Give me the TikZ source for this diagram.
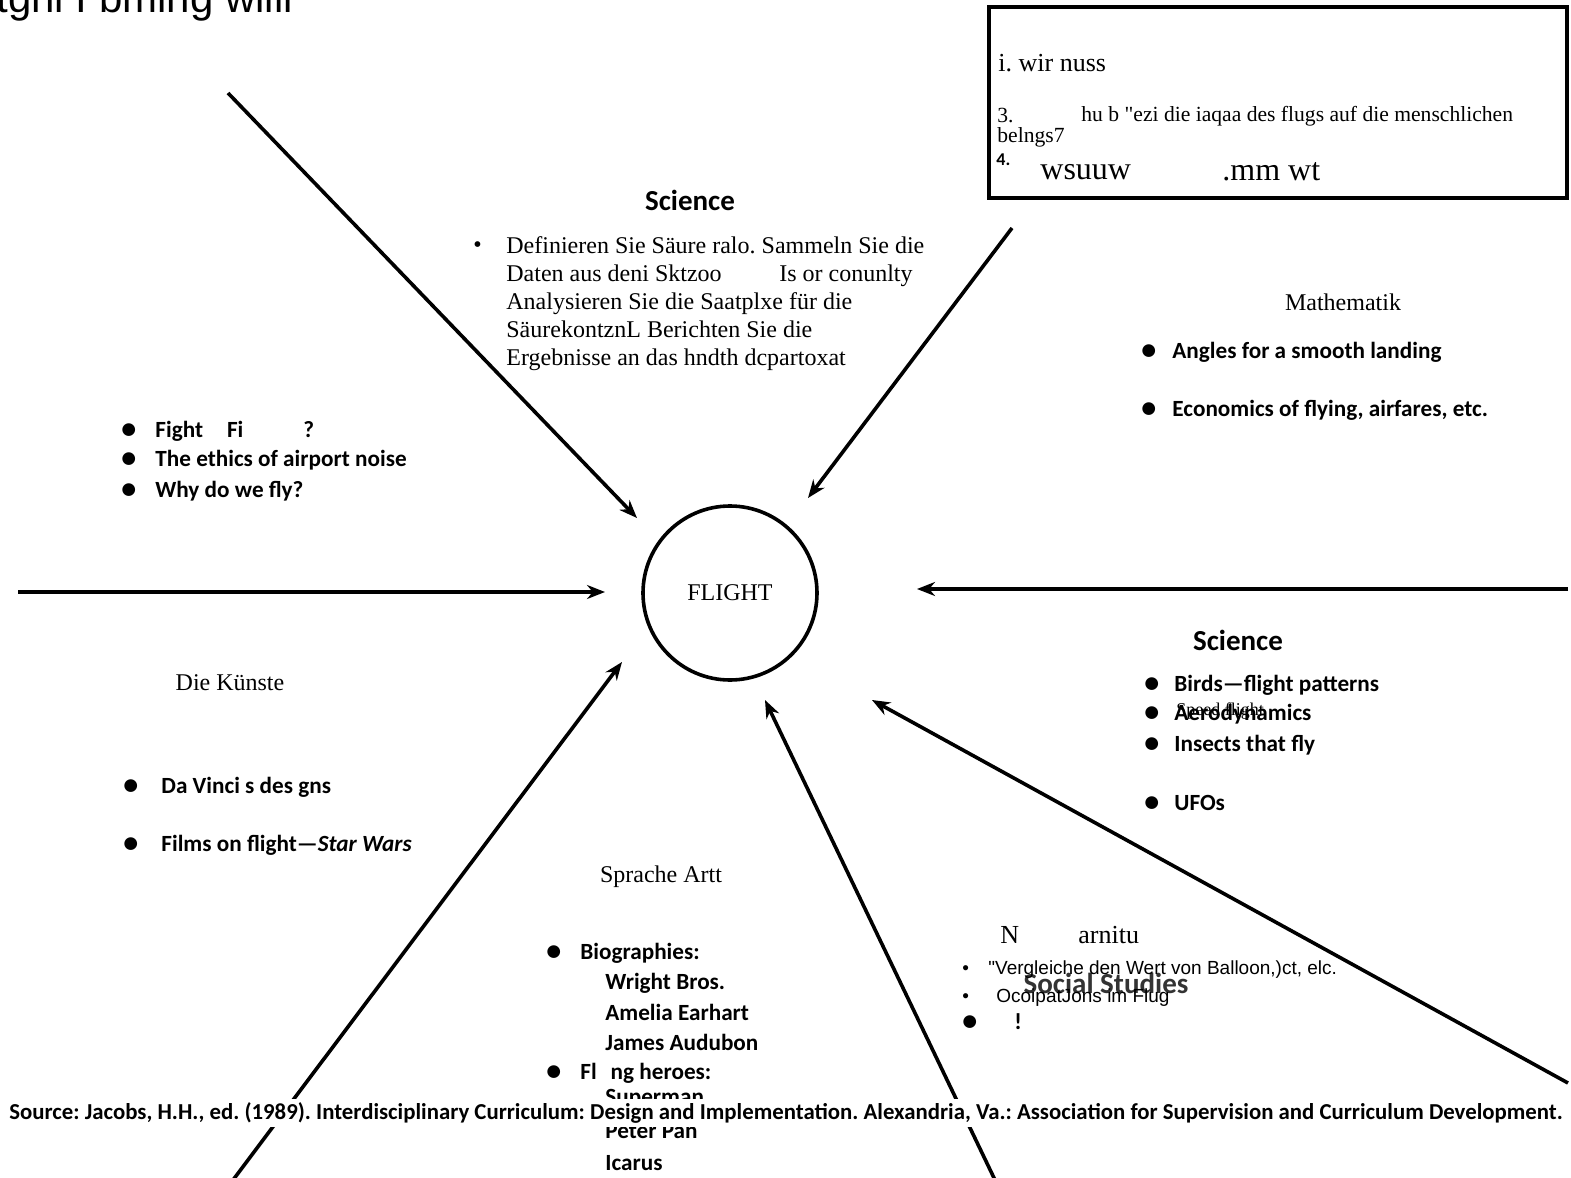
\documentclass[tikz,border=0pt]{standalone}
\usepackage{fontspec}
\setmainfont{Liberation Serif}[Ligatures=TeXOff]
\setsansfont{Liberation Sans}[Ligatures=TeXOff]
\newfontfamily\scanfont{Carlito}
\usetikzlibrary{arrows.meta,positioning}
\newcommand{\blt}[1][13pt]{\makebox[#1][l]{\raisebox{-0.6pt}{\fontsize{15}{15}\selectfont\textbullet}}}
\frenchspacing

\begin{document}
\begin{tikzpicture}[x=0.5pt, y=-0.5pt,
    spoke/.style={-{Stealth[length=9pt,width=7pt]}, line width=1.8pt},
    head/.style={font=\scanfont\bfseries\fontsize{14.5}{16}\selectfont, inner sep=0pt},
    topic/.style={font=\fontsize{12}{14}\selectfont, inner sep=0pt},
    item/.style={anchor=west, inner sep=0pt, font=\scanfont\bfseries\fontsize{11.6}{13}\selectfont},
    note/.style={anchor=west, inner sep=0pt, font=\sffamily\fontsize{9.5}{11}\selectfont},
]
\useasboundingbox (0,0) rectangle (1571,1178);

\node[anchor=base west, inner sep=0pt, font=\sffamily\fontsize{21}{23}\selectfont] (cut) at (-4,12) {tghi I bming wiiii};

% centre and question box
\node[circle, draw, line width=1.8pt, minimum size=87pt, font=\fontsize{12}{14}\selectfont] (hub) at (730,593) {FLIGHT};
\node[draw, line width=1.8pt, anchor=north west, inner sep=0pt, minimum width=289pt, minimum height=95.5pt] (qbox) at (987,5) {};
\node[topic, anchor=west, font=\fontsize{13}{15}\selectfont] (q1) at (998,63) {i. wir nuss};
\node[topic, anchor=west, font=\fontsize{10.8}{11}\selectfont] (q3) at (997,116) {3.};
\node[topic, anchor=west, font=\fontsize{10.8}{11}\selectfont] (q3a) at (1081,116) {hu b "ezi die iaqaa des flugs auf die menschlichen};
\node[topic, anchor=west, font=\fontsize{10.8}{11}\selectfont] (q3b) at (997,137) {belngs7};
\node[item, font=\scanfont\bfseries\fontsize{9}{9}\selectfont] (q4) at (996,160) {4.};
\node[topic, anchor=west, font=\fontsize{16}{18}\selectfont] (q4a) at (1040,172) {wsuuw};
\node[topic, anchor=west, font=\fontsize{16}{18}\selectfont] (q4b) at (1222,172) {.mm wt};

% spokes
\coordinate (nwout) at (228,93);   \coordinate (nwin) at (637,518);
\coordinate (neout) at (1012,228); \coordinate (nein) at (808,498);
\coordinate (wout) at (18,592);    \coordinate (win) at (605,592);
\coordinate (eout) at (1568,589);  \coordinate (ein) at (917,589);
\coordinate (seout) at (1568,1083);\coordinate (sein) at (872,700);
\coordinate (sout) at (995,1180);  \coordinate (sin) at (765,700);
\coordinate (swout) at (233,1180); \coordinate (swin) at (622,662);
\draw[spoke] (nwout) -- (nwin);
\draw[spoke] (neout) -- (nein);
\draw[spoke] (wout) -- (win);
\draw[spoke] (eout) -- (ein);
\draw[spoke] (seout) -- (sein);
\draw[spoke] (sout) -- (sin);
\draw[spoke] (swout) -- (swin);

% science (top)
\node[head] (sci1) at (690,200) {Science};
\node[topic, anchor=west] (sci1b) at (473,247) {\textbullet};
\node[topic, anchor=north west, align=left] (sci1t) at (506,236) {Definieren Sie Säure ralo. Sammeln Sie die\\Daten aus deni Sktzoo\hspace{2.4em}Is or conunlty\\Analysieren Sie die Saatplxe für die\\SäurekontznL Berichten Sie die\\Ergebnisse an das hndth dcpartoxat};

% mathematics
\node[topic] (math) at (1343,302) {Mathematik};
\node[item] (math1) at (1141,352) {\blt[15.5pt]Angles for a smooth landing};
\node[item] (math2) at (1141,410) {\blt[15.5pt]Economics of flying, airfares, etc.};

% ethics
\node[item] (eth1) at (121,431) {\blt[17pt]Fight\hspace{12pt}Fi\hspace{30pt}?};
\node[item] (eth2) at (121,460) {\blt[17pt]The ethics of airport noise};
\node[item] (eth3) at (121,491) {\blt[17pt]Why do we fly?};

% science (right)
\node[head] (sci2) at (1238,640) {Science};
\node[item] (sci2a) at (1144,685) {\blt[15pt]Birds—flight patterns};
\node[item] (sci2b) at (1144,714) {\blt[15pt]Aerodynamics};
\node[topic, anchor=west, font=\fontsize{9}{10}\selectfont] (sci2s) at (1176,711) {Speed flight};
\node[item] (sci2c) at (1144,745) {\blt[15pt]Insects that fly};
\node[item] (sci2d) at (1144,803) {\blt[15pt]UFOs};

% arts
\node[topic] (arts) at (230,683) {Die Künste};
\node[item] (arts1) at (123,787) {\blt[19pt]Da Vinci s des gns};
\node[item] (arts2) at (123,845) {\blt[19pt]Films on flight—\textit{Star Wars}};

% language arts
\node[topic] (lang) at (661,877) {Sprache Artt};
\node[item] (lang1) at (546,953) {\blt[17pt]Biographies:};
\node[item] (lang2) at (605,983) {Wright Bros.};
\node[item] (lang3) at (605,1012) {Amelia Earhart};
\node[item] (lang4) at (605,1042) {James Audubon};
\node[item] (lang5) at (546,1073) {\blt[17pt]Fl\hspace{7pt}ng heroes:};
\node[item] (lang6) at (605,1099) {Superman};
\node[item] (lang7) at (605,1131) {Peter Pan};
\node[item] (lang8) at (605,1163) {Icarus};

% social studies
\node[topic, anchor=west, font=\fontsize{13}{15}\selectfont] (soc0) at (1000,935) {N};
\node[topic, anchor=west, font=\fontsize{13}{15}\selectfont] (soc0b) at (1078,935) {arnitu};
\node[head, text=black!80] (soc) at (1106,983) {Social Studies};
\node[note] (soc1) at (962,970) {\makebox[13pt][l]{\textbullet}"Vergleiche den Wert von Balloon,)ct, elc.};
\node[note] (soc2) at (962,998) {\makebox[17pt][l]{\textbullet}OcoipatJons im Flug};
\node[item] (soc3) at (962,1022) {\blt[26pt]!};

% source strip
\node[fill=white, inner xsep=0pt, inner ysep=2pt, minimum height=13pt, font=\scanfont\bfseries\fontsize{11.4}{12}\selectfont] (src) at (786,1113) {Source: Jacobs, H.H., ed. (1989). Interdisciplinary Curriculum: Design and Implementation. Alexandria, Va.: Association for Supervision and Curriculum Development.};
\end{tikzpicture}
\end{document}
